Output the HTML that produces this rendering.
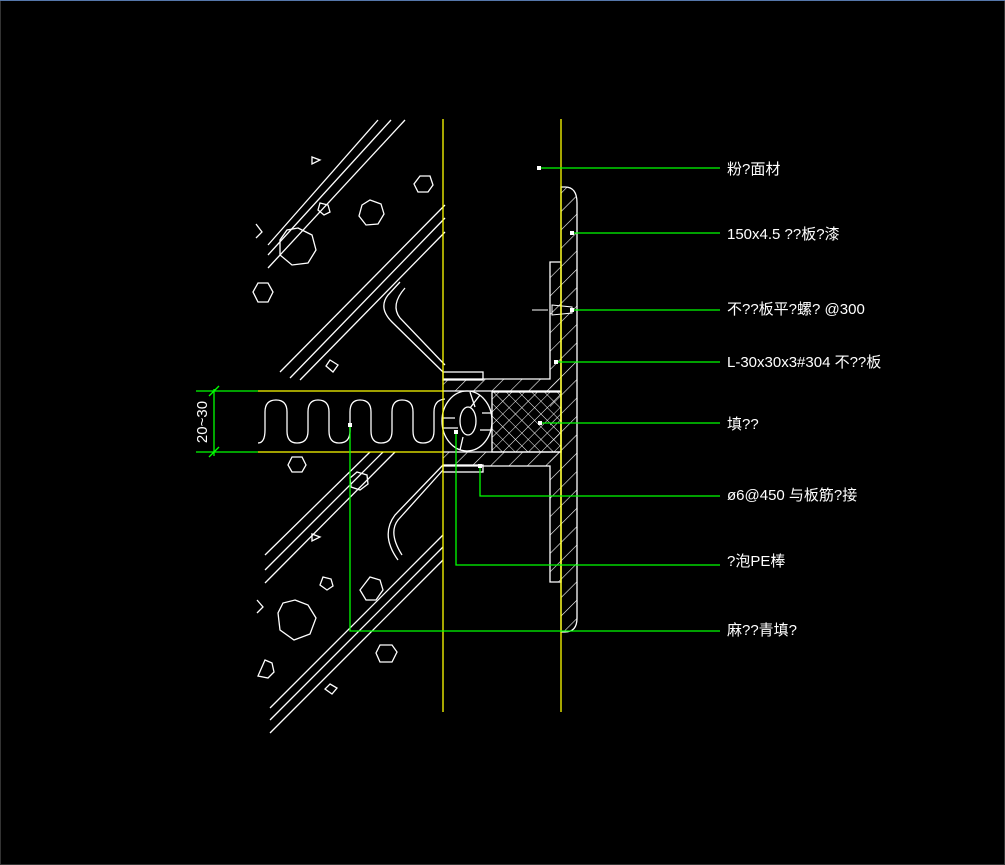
<!DOCTYPE html>
<html><head><meta charset="utf-8"><style>
html,body{margin:0;padding:0;background:#000;}
svg{display:block}
text{font-family:"Liberation Sans","Noto Sans CJK SC",sans-serif;fill:#fff;font-size:15px}
</style></head><body>
<svg width="1005" height="865" viewBox="0 0 1005 865" xmlns="http://www.w3.org/2000/svg">
<defs>
<pattern id="h" width="13" height="13" patternUnits="userSpaceOnUse" patternTransform="rotate(45)">
<line x1="0" y1="0" x2="0" y2="13" stroke="#fff" stroke-width="1.2"/></pattern>
<pattern id="x" width="9" height="9" patternUnits="userSpaceOnUse" patternTransform="rotate(45)">
<line x1="0" y1="0" x2="0" y2="9" stroke="#fff" stroke-width="1"/><line x1="0" y1="0" x2="9" y2="0" stroke="#fff" stroke-width="1"/></pattern>
</defs>
<rect x="0.5" y="0.5" width="1004" height="864" fill="none" stroke="#333"/>
<line x1="0" y1="0.5" x2="1005" y2="0.5" stroke="#5577aa"/>
<g stroke="#fff" stroke-width="1.3" fill="none">
<line x1="268" y1="245" x2="378" y2="120"/><line x1="268" y1="255" x2="391" y2="120"/><line x1="268" y1="268" x2="405" y2="120"/>
<line x1="280" y1="372" x2="445" y2="205"/><line x1="290" y1="378" x2="445" y2="218"/><line x1="300" y1="380" x2="445" y2="232"/>
<path d="M400 282 L388 295 Q378 308 392 322 L443 372"/><path d="M405 288 Q390 305 400 318 L445 365"/>
<line x1="265" y1="555" x2="370" y2="452"/><line x1="265" y1="570" x2="383" y2="452"/><line x1="265" y1="583" x2="395" y2="452"/>
<line x1="270" y1="708" x2="443" y2="535"/><line x1="270" y1="720" x2="443" y2="547"/><line x1="270" y1="733" x2="443" y2="560"/>
<path d="M443 465 L395 515 Q380 535 398 560"/><path d="M443 470 L398 520 Q388 533 402 555"/>
<polygon points="298,228 312,235 316,250 308,263 292,265 280,255 280,240 287,230"/>
<polygon points="370,200 381,204 384,214 378,224 366,225 359,216 362,205"/>
<polygon points="420,176 430,176 433,185 428,192 418,192 414,184"/>
<polygon points="258,283 268,283 273,292 268,302 258,302 253,292"/>
<polygon points="320,203 328,205 330,212 324,215 318,210"/>
<polygon points="295,600 308,605 316,618 310,634 294,640 280,630 278,613 283,603"/>
<polygon points="370,577 380,580 383,590 376,600 366,600 360,590"/>
<polygon points="380,645 392,645 397,652 392,662 380,662 376,653"/>
<polygon points="292,457 302,457 306,465 302,472 292,472 288,465"/>
<polygon points="357,472 367,475 368,484 360,490 351,487 350,478"/>
<polygon points="323,577 331,579 333,586 327,590 320,585"/>
<polygon points="265,660 272,663 274,672 268,678 258,676"/>
<polygon points="330,360 338,365 333,372 326,366"/>
<polygon points="330,684 337,688 332,694 325,689"/>
<path d="M312 157 L320 160 L312 164 Z"/><path d="M312 534 L320 537 L312 541 Z"/>
<path d="M256 224 L262 232 L256 238"/><path d="M257 600 L263 607 L257 613"/>
<path d="M258 443 Q265 443 265 430 L265 412 Q265 400 276 400 Q287 400 287 412 L287 431 Q287 443 297 443 Q308 443 308 431 L308 412 Q308 400 318 400 Q329 400 329 412 L329 431 Q329 443 339 443 Q350 443 350 431 L350 412 Q350 400 360 400 Q371 400 371 412 L371 431 Q371 443 381 443 Q392 443 392 431 L392 412 Q392 400 402 400 Q413 400 413 412 L413 431 Q413 443 423 443 Q434 443 434 431 L434 412 Q434 400 445 399"/>
<ellipse cx="467" cy="421" rx="25" ry="30"/><ellipse cx="468" cy="421" rx="8" ry="14"/>
<path d="M443 418 L455 418 M443 428 L458 428 M470 392 L475 407 M480 395 L470 408 M482 413 L492 413 M480 430 L492 430 M460 450 L463 437"/>
<path d="M443 379 L550 379 L550 262 L561 262 L561 582 L550 582 L550 466 L443 466"/>
<line x1="443" y1="391" x2="561" y2="391"/><line x1="443" y1="452" x2="561" y2="452"/>
<rect x="443" y="372" width="40" height="8"/><rect x="443" y="465" width="40" height="7"/>
</g>
<rect x="492" y="392" width="69" height="60" fill="url(#x)"/>
<rect x="443" y="379" width="118" height="12" fill="url(#h)"/>
<rect x="443" y="452" width="118" height="14" fill="url(#h)"/>
<rect x="550" y="262" width="11" height="320" fill="url(#h)"/>
<path d="M561 187 L565 187 Q577 187 577 203 L577 618 Q577 632 565 632 L561 632 Z" fill="url(#h)" stroke="#fff" stroke-width="1.3"/>
<rect x="492" y="392" width="69" height="60" fill="none" stroke="#fff" stroke-width="1.3"/>
<path d="M532 310 L548 310 M552 305 L572 307 L572 313 L552 315 Z" stroke="#fff" fill="none" stroke-width="1"/>
<g stroke="#ffff00" stroke-width="1.3">
<line x1="443" y1="119" x2="443" y2="712"/><line x1="561" y1="119" x2="561" y2="712"/>
<line x1="258" y1="391" x2="443" y2="391"/><line x1="258" y1="452" x2="443" y2="452"/>
</g>
<g stroke="#00ff00" stroke-width="1.3" fill="none">
<line x1="539" y1="168" x2="720" y2="168"/>
<line x1="572" y1="233" x2="720" y2="233"/>
<line x1="572" y1="310" x2="720" y2="310"/>
<line x1="556" y1="362" x2="720" y2="362"/>
<line x1="540" y1="423" x2="720" y2="423"/>
<polyline points="480,466 480,496 720,496"/>
<polyline points="456,432 456,565 720,565"/>
<polyline points="350,425 350,631 720,631"/>
<line x1="214" y1="389" x2="214" y2="456"/>
<line x1="196" y1="391" x2="258" y2="391"/><line x1="196" y1="452" x2="258" y2="452"/>
<line x1="209" y1="396" x2="219" y2="386"/><line x1="209" y1="457" x2="219" y2="447"/>
</g>
<g fill="#fff"><rect x="537" y="166" width="4" height="4"/><rect x="570" y="231" width="4" height="4"/><rect x="570" y="308" width="4" height="4"/><rect x="554" y="360" width="4" height="4"/><rect x="538" y="421" width="4" height="4"/><rect x="478" y="464" width="4" height="4"/><rect x="454" y="430" width="4" height="4"/><rect x="348" y="423" width="4" height="4"/></g>
<text x="207" y="422" font-size="13" transform="rotate(-90 207 422)" text-anchor="middle">20~30</text>
<text x="727" y="174">粉?面材</text>
<text x="727" y="239">150x4.5 ??板?漆</text>
<text x="727" y="314">不??板平?螺?  @300</text>
<text x="727" y="367">L-30x30x3#304 不??板</text>
<text x="727" y="429">填??</text>
<text x="727" y="500">ø6@450 与板筋?接</text>
<text x="727" y="566">?泡PE棒</text>
<text x="727" y="635">麻??青填?</text>
</svg>
</body></html>
